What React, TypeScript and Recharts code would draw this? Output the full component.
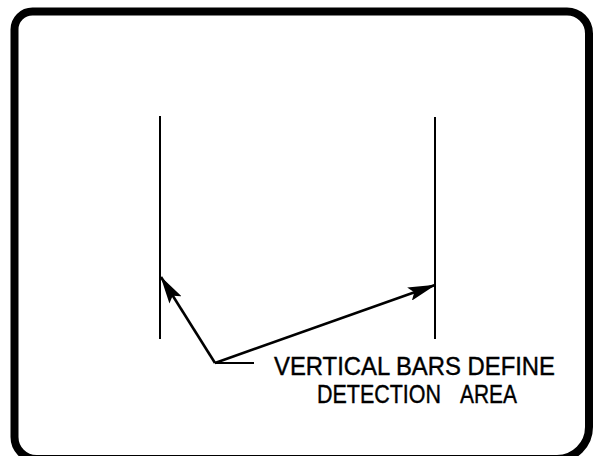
import { ComposedChart, XAxis, YAxis, ReferenceArea, ReferenceLine } from "recharts";

// diagram coordinates (page pixels, y measured downwards)
const leftBar = [
  { x: 160, y: 116 },
  { x: 160, y: 339 },
];
const rightBar = [
  { x: 435, y: 117 },
  { x: 435, y: 339 },
];
const leftArrow = [
  { x: 215, y: 363 },
  { x: 161, y: 277 },
];
const rightArrow = [
  { x: 215, y: 363 },
  { x: 435, y: 285 },
];
const leader = [
  { x: 215, y: 363 },
  { x: 254, y: 363 },
];
const labelLines = ["VERTICAL BARS DEFINE", "DETECTION", "AREA"];

const W = 595;
const H = 456;
const font = "Liberation Sans, Arial, sans-serif";

export default function App() {
  return (
    <div style={{ position: "fixed", left: 0, top: 0, width: W, height: H, background: "#fff" }}>
      <ComposedChart width={W} height={H} margin={{ top: 0, right: 0, bottom: 0, left: 0 }}>
        <defs>
          <marker
            id="arrowHead"
            viewBox="0 0 28 14"
            refX="27"
            refY="7"
            markerWidth="28"
            markerHeight="14"
            markerUnits="userSpaceOnUse"
            orient="auto"
          >
            <path d="M0,0 L28,7 L0,14 L5,7 Z" fill="#000" />
          </marker>
        </defs>
        <XAxis type="number" dataKey="x" domain={[0, W]} hide allowDataOverflow />
        <YAxis type="number" dataKey="y" domain={[0, H]} reversed hide allowDataOverflow />

        {/* frame */}
        <ReferenceArea
          x1={14.5}
          x2={589}
          y1={11.5}
          y2={459}
          ifOverflow="visible"
          fill="none"
          stroke="#000"
          strokeWidth={8}
          radius={[18, 22, 32, 22]}
        />

        <ReferenceLine segment={leftBar} stroke="#000" strokeWidth={2} ifOverflow="visible" />
        <ReferenceLine segment={rightBar} stroke="#000" strokeWidth={2} ifOverflow="visible" />
        <ReferenceLine
          segment={leftArrow}
          stroke="#000"
          strokeWidth={2.6}
          ifOverflow="visible"
          markerEnd="url(#arrowHead)"
        />
        <ReferenceLine
          segment={rightArrow}
          stroke="#000"
          strokeWidth={2.6}
          ifOverflow="visible"
          markerEnd="url(#arrowHead)"
        />
        <ReferenceLine segment={leader} stroke="#000" strokeWidth={2} ifOverflow="visible" />

        <g fill="#000" stroke="#000" strokeWidth={0.4} fontFamily={font} fontSize={25}>
          <text x={274} y={375} textLength={281} lengthAdjust="spacingAndGlyphs">
            {labelLines[0]}
          </text>
          <text x={317} y={403} textLength={124} lengthAdjust="spacingAndGlyphs">
            {labelLines[1]}
          </text>
          <text x={460} y={403} textLength={57} lengthAdjust="spacingAndGlyphs">
            {labelLines[2]}
          </text>
        </g>
      </ComposedChart>
    </div>
  );
}
